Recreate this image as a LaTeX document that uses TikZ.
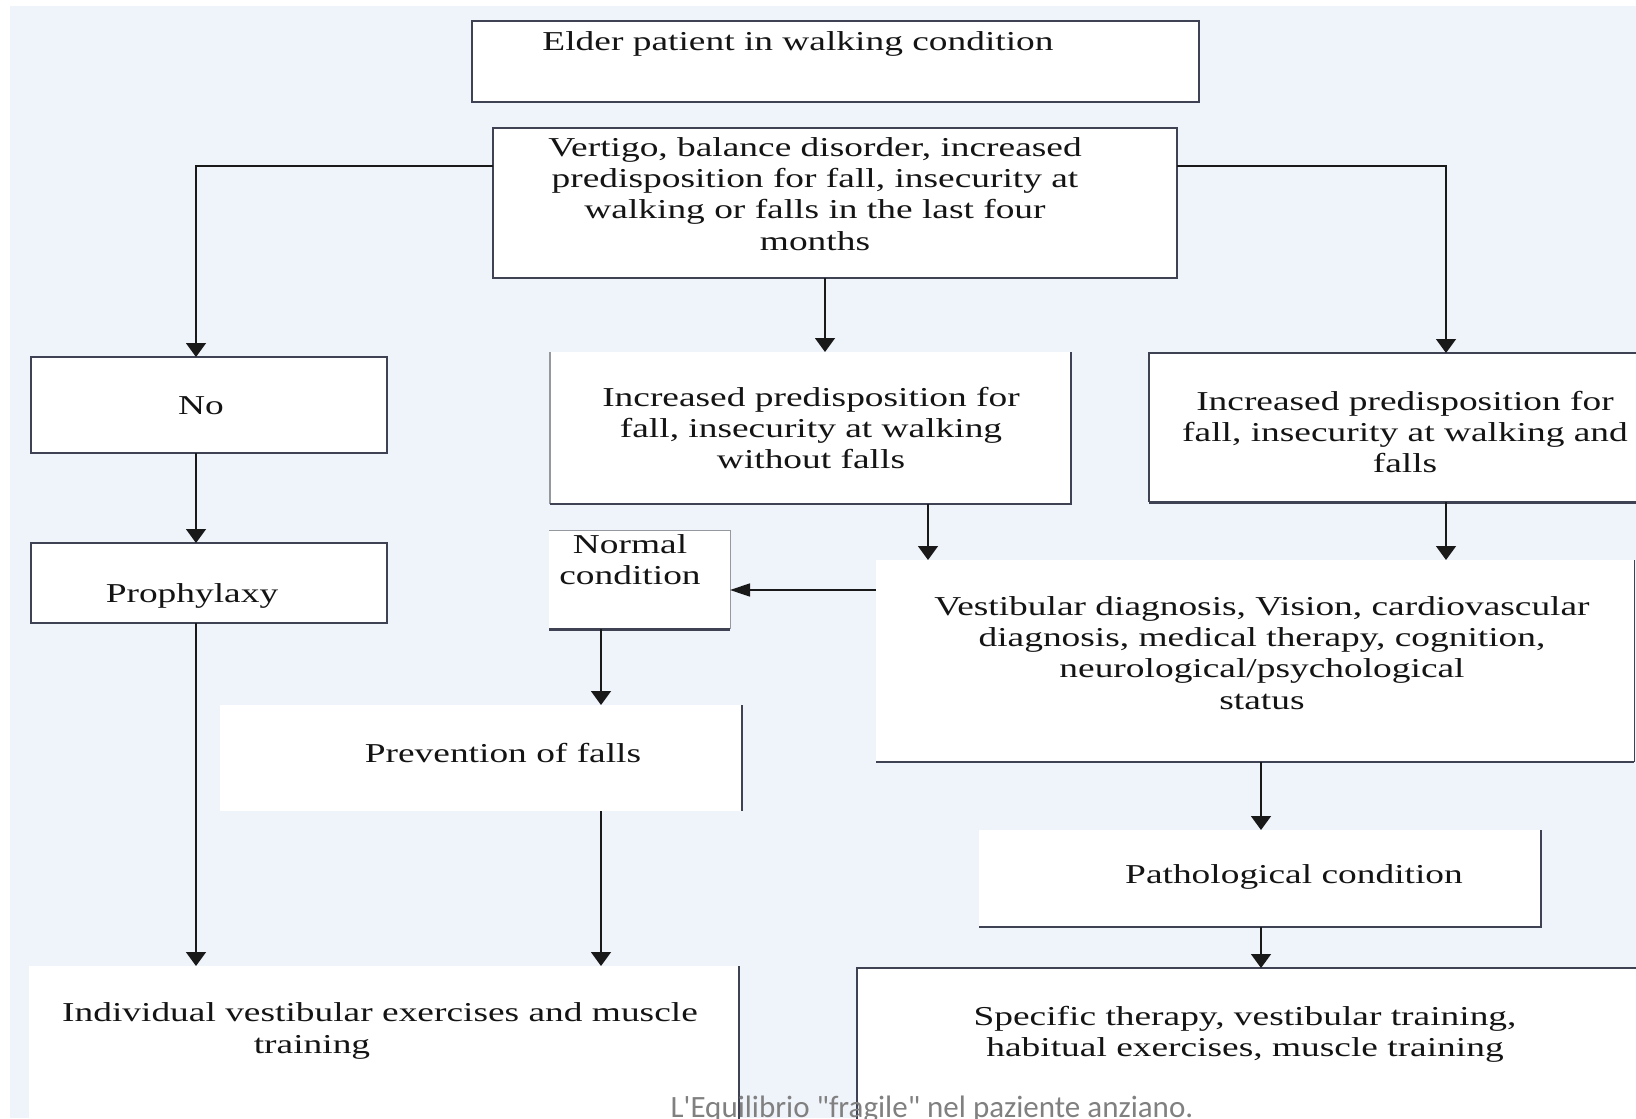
\documentclass[tikz,border=0pt]{standalone}
\usepackage{fontspec}
\setmainfont{Liberation Serif}[FakeStretch=1.37]
\newfontfamily\capfont{Carlito}[Ligatures=TeXOff]
\usetikzlibrary{fit,arrows.meta}

\begin{document}
\begin{tikzpicture}[x=0.5pt,y=0.5pt,yscale=-1,xscale=1,
  box/.style={inner sep=0pt,outer sep=0pt,fill=white},
  framed/.style={box,draw={rgb,255:red,62;green,66;blue,82},line width=1pt},
  edge/.style={draw={rgb,255:red,62;green,66;blue,82},line width=1pt},
  faint/.style={draw={rgb,255:red,150;green,152;blue,160},line width=1pt},
  txt/.style={inner sep=0pt,align=center,text={rgb,255:red,20;green,20;blue,20},font=\fontsize{13.65pt}{15.65pt}\selectfont},
  arr/.style={draw={rgb,255:red,25;green,25;blue,25},line width=0.75pt,-{Triangle[length=7pt,width=10pt]}},
  harr/.style={arr,-{Triangle[length=10pt,width=6.5pt]}}
]
\useasboundingbox (0,0) rectangle (1636,1118);
%Background
\fill[color={rgb,255:red,239;green,243;blue,250}] (10,6) rectangle (1636,1118);

%Box: elder patient
\node[framed,fit={(472,21) (1199,102)}] (elder) {};
\node[txt] (elder-t) at (798,44) {Elder patient in walking condition};
%Box: vertigo
\node[framed,fit={(493,128) (1177,278)}] (vertigo) {};
\node[txt] (vertigo-t) at (815,194) {Vertigo, balance disorder, increased\\predisposition for fall, insecurity at\\walking or falls in the last four\\months};
%Box: no
\node[framed,fit={(31,357) (387,453)}] (no) {};
\node[txt] (no-t) at (201,406) {No};
%Box: prophylaxy
\node[framed,fit={(31,543) (387,623)}] (prophy) {};
\node[txt] (prophy-t) at (192,596) {Prophylaxy};
%Box: without falls
\node[box,fit={(550,352) (1071,504)}] (nofalls) {};
\draw[faint] (nofalls.north west) -- (nofalls.south west);
\draw[edge] (nofalls.south west) -- (nofalls.south east) -- (nofalls.north east);
\node[txt] (nofalls-t) at (811,428) {Increased predisposition for\\fall, insecurity at walking\\without falls};
%Box: and falls
\node[box,fit={(1149,353) (1660,502)}] (andfalls) {};
\draw[edge] (andfalls.north east) -- (andfalls.north west) -- (andfalls.south west);
\draw[edge,line width=1.5pt] (andfalls.south west) -- (andfalls.south east);
\node[txt] (andfalls-t) at (1405,432) {Increased predisposition for\\fall, insecurity at walking and\\falls};
%Box: normal condition
\node[box,fit={(549,530) (730,629)}] (normal) {};
\draw[faint,line width=0.5pt] (normal.north west) -- (normal.north east) -- (normal.south east);
\draw[edge,line width=1.5pt] (normal.south west) -- (normal.south east);
\node[txt] (normal-t) at (630,560) {Normal\\condition};
%Box: diagnosis
\node[box,fit={(876,560) (1634,762)}] (vestib) {};
\draw[edge] (vestib.south west) -- (vestib.south east);
\draw[edge,line width=0.5pt] (vestib.south east) -- (vestib.north east);
\node[txt] (vestib-t) at (1262,653) {Vestibular diagnosis, Vision, cardiovascular\\diagnosis, medical therapy, cognition,\\neurological/psychological\\status};
%Box: prevention
\node[box,fit={(220,705) (742,811)}] (prevent) {};
\draw[edge] (prevent.north east) -- (prevent.south east);
\node[txt] (prevent-t) at (503,753) {Prevention of falls};
%Box: individual exercises
\node[box,fit={(29,966) (739,1140)}] (indiv) {};
\draw[edge] (indiv.north east) -- (indiv.south east);
\node[txt] (indiv-t) at (380,1031) {Individual vestibular exercises and muscle\\\hspace*{-68pt}training};
%Box: pathological
\node[box,fit={(979,830) (1541,927)}] (patho) {};
\draw[edge] (patho.south west) -- (patho.south east) -- (patho.north east);
\node[txt] (patho-t) at (1294,877) {Pathological condition};
%Box: specific therapy
\node[box,fit={(857,968) (1660,1140)}] (specific) {};
\draw[edge] (specific.south west) -- (specific.north west) -- (specific.north east);
\node[txt] (specific-t) at (1245,1034) {Specific therapy, vestibular training,\\habitual exercises, muscle training};

%Caption
\node[anchor=base,inner sep=0pt,text={rgb,255:red,128;green,128;blue,128},font=\capfont\fontsize{15.5pt}{18pt}\selectfont] (caption) at (932,1117) {L'Equilibrio "fragile" nel paziente anziano.};

%Connectors
\coordinate (lx) at (196,166);
\coordinate (rx) at (1446,166);
\coordinate (mx) at (825,0);
\coordinate (nx) at (928,0);
\coordinate (px) at (601,0);
\coordinate (vx) at (1261,0);
\coordinate (hy) at (0,590);
\draw[arr] (vertigo.west |- lx) -- (lx) -- (lx |- no.north);
\draw[arr] (vertigo.east |- rx) -- (rx) -- (rx |- andfalls.north);
\draw[arr] (mx |- vertigo.south) -- (mx |- nofalls.north);
\draw[arr] (lx |- no.south) -- (lx |- prophy.north);
\draw[arr] (lx |- prophy.south) -- (lx |- indiv.north);
\draw[arr] (nx |- nofalls.south) -- (nx |- vestib.north);
\draw[arr] (rx |- andfalls.south) -- (rx |- vestib.north);
\draw[harr] (vestib.west |- hy) -- (normal.east |- hy);
\draw[arr] (px |- normal.south) -- (px |- prevent.north);
\draw[arr] (px |- prevent.south) -- (px |- indiv.north);
\draw[arr] (vx |- vestib.south) -- (vx |- patho.north);
\draw[arr] (vx |- patho.south) -- (vx |- specific.north);
\end{tikzpicture}
\end{document}
